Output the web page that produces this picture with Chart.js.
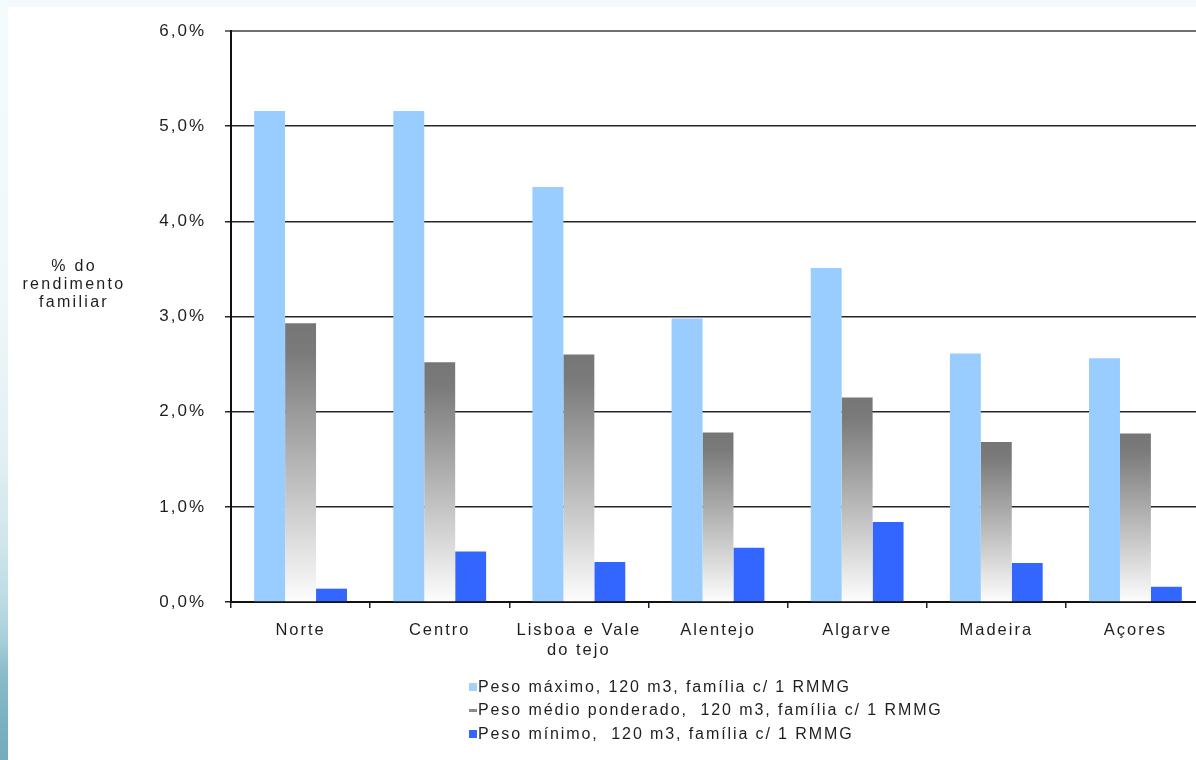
<!DOCTYPE html>
<html lang="pt">
<head>
<meta charset="utf-8">
<title>Peso da factura de água no rendimento familiar</title>
<script src="https://cdn.jsdelivr.net/npm/chart.js@4.4.1/dist/chart.umd.min.js"></script>
<style>
  html, body { margin: 0; padding: 0; background: #ffffff; overflow: hidden; width: 1196px; height: 760px; }
  body { position: relative; font-family: "Liberation Sans", Arial, sans-serif; color: #1e1e1e; }
  #topband { position: absolute; left: 0; top: 0; width: 1196px; height: 7px; background: #f3f9fc; }
  #sideband {
    position: absolute; left: 0; top: 0; width: 8px; height: 760px;
    background: linear-gradient(to bottom, #f4fbfd 0px, #eef7f9 300px, #e2f0f4 450px, #d0e6ec 540px,
                #bcdce5 600px, #a6cfdb 640px, #8bbecc 670px, #7db3c3 710px, #74acbd 760px);
  }
  #wrap { position: absolute; left: 0; top: 0; width: 1215px; height: 760px; }
  #ytitle {
    position: absolute; left: 14px; top: 257px; width: 120px; text-align: center;
    font-size: 16px; line-height: 18px; letter-spacing: 2.3px; color: #1e1e1e;
  }
  #legend { position: absolute; left: 469px; top: 675px; font-size: 16px; letter-spacing: 1.9px; color: #1e1e1e; }
  #legend .row { height: 23.5px; display: flex; align-items: center; white-space: pre; }
  #legend .sw { width: 8px; margin-right: 1px; flex: none; }
</style>
</head>
<body>
<div id="topband"></div>
<div id="sideband"></div>
<div id="wrap"><canvas id="chart" width="1215" height="760"></canvas></div>
<div id="ytitle">% do<br>rendimento<br>familiar</div>
<div id="legend"></div>
<script>
// Regions (NUTS II) and the weight of the water bill in family income, in %
const categories = ['Norte', 'Centro', ['Lisboa e Vale', 'do tejo'], 'Alentejo', 'Algarve', 'Madeira', 'Açores'];
const pesoMaximo = [5.16, 5.16, 4.36, 2.98, 3.51, 2.61, 2.56];
const pesoMedio  = [2.93, 2.52, 2.60, 1.78, 2.15, 1.68, 1.77];
const pesoMinimo = [0.14, 0.53, 0.42, 0.57, 0.84, 0.41, 0.16];
const yTickLabels = ['0,0%', '1,0%', '2,0%', '3,0%', '4,0%', '5,0%', '6,0%'];
const seriesNames = [
  'Peso máximo, 120 m3, família c/ 1 RMMG',
  'Peso médio ponderado,  120 m3, família c/ 1 RMMG',
  'Peso mínimo,  120 m3, família c/ 1 RMMG'
];

const FONT = '"Liberation Sans", Arial, sans-serif';
const TEXT = '#1e1e1e';

// grey bars fade from dark grey at the top to white at the baseline
function greyFade(ctx) {
  const chart = ctx.chart;
  if (ctx.type !== 'data' || !chart.chartArea) return '#808080';
  const y = chart.scales.y;
  const top = y.getPixelForValue(ctx.parsed.y);
  const base = y.getPixelForValue(0);
  const g = chart.ctx.createLinearGradient(0, top, 0, base);
  g.addColorStop(0, '#767676');
  g.addColorStop(0.1, '#7a7a7a');
  g.addColorStop(1, '#fdfdfd');
  return g;
}

// wide letter spacing for the axis texts
const letterSpacing = {
  id: 'letterSpacing',
  beforeUpdate(chart) { chart.ctx.letterSpacing = '2px'; },
  beforeDraw(chart) { chart.ctx.letterSpacing = '2px'; }
};

new Chart(document.getElementById('chart'), {
  type: 'bar',
  data: {
    labels: categories,
    datasets: [
      { label: seriesNames[0], data: pesoMaximo, backgroundColor: '#99ccff' },
      { label: seriesNames[1], data: pesoMedio,  backgroundColor: greyFade },
      { label: seriesNames[2], data: pesoMinimo, backgroundColor: '#3366ff' }
    ]
  },
  options: {
    responsive: false,
    animation: false,
    devicePixelRatio: 1,
    layout: { padding: { top: 31, right: 10, bottom: 98, left: 0 } },
    datasets: { bar: { barPercentage: 1, categoryPercentage: 0.667, borderWidth: 0 } },
    plugins: { legend: { display: false }, tooltip: { enabled: false } },
    scales: {
      x: {
        afterFit(s) { s.height = 60; },
        grid: { display: true, drawOnChartArea: false, drawTicks: true, tickLength: 6, color: '#222', lineWidth: 1.5, offset: true },
        border: { color: '#111', width: 2 },
        ticks: { font: { family: FONT, size: 16.5 }, color: TEXT, padding: 13, maxRotation: 0, autoSkip: false }
      },
      y: {
        min: 0,
        max: 6,
        afterFit(s) { s.width = 231; },
        grid: {
          color: c => (c.tick && c.tick.value === 6) ? '#707070' : '#262626',
          lineWidth: c => (c.tick && c.tick.value === 6) ? 2 : 1.5,
          tickLength: 6,
          drawTicks: true
        },
        border: { color: '#111', width: 2 },
        ticks: {
          stepSize: 1,
          padding: 19,
          color: TEXT,
          font: { family: FONT, size: 17 },
          callback: (v) => yTickLabels[Math.round(v)]
        }
      }
    }
  },
  plugins: [letterSpacing]
});

// legend below the plot, one series per row
const swatches = [
  'height:8px;background:#a8d0f4;',
  'height:3px;background:#8a8a8a;',
  'height:8px;background:#3366ff;'
];
const legend = document.getElementById('legend');
seriesNames.forEach((name, i) => {
  const row = document.createElement('div');
  row.className = 'row';
  const sw = document.createElement('span');
  sw.className = 'sw';
  sw.style.cssText = swatches[i];
  const txt = document.createElement('span');
  txt.textContent = name;
  row.appendChild(sw);
  row.appendChild(txt);
  legend.appendChild(row);
});
</script>
</body>
</html>
